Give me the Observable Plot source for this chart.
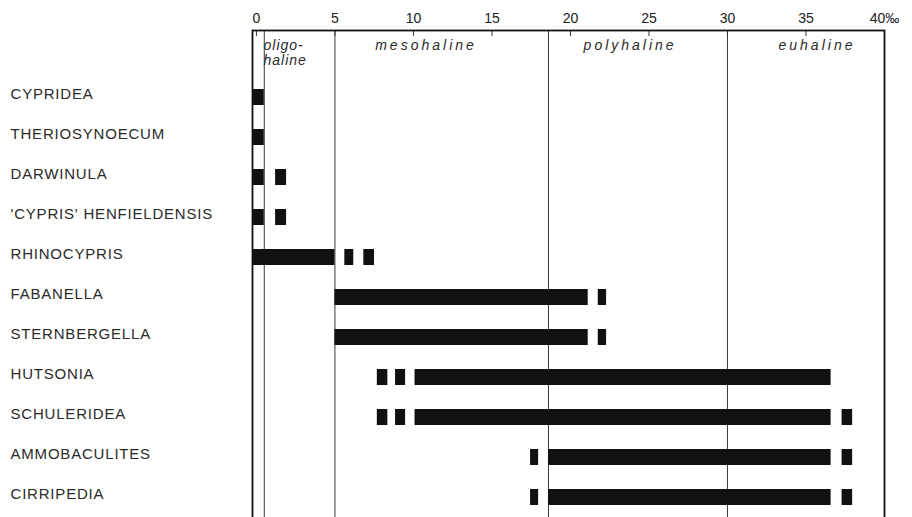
<!DOCTYPE html>
<html>
<head>
<meta charset="utf-8">
<script src="https://cdn.jsdelivr.net/npm/d3@7"></script>
<script src="https://cdn.jsdelivr.net/npm/@observablehq/plot@0.6"></script>
<style>
  html, body { margin: 0; padding: 0; background: #fff; }
</style>
</head>
<body>
<div id="chart"></div>
<script>
// Taxa (rows, top to bottom)
const species = [
  "CYPRIDEA", "THERIOSYNOECUM", "DARWINULA", "'CYPRIS' HENFIELDENSIS", "RHINOCYPRIS",
  "FABANELLA", "STERNBERGELLA", "HUTSONIA", "SCHULERIDEA", "AMMOBACULITES", "CIRRIPEDIA"
];

// Salinity ranges (‰): one entry per drawn segment
const segSpecies = [
  "CYPRIDEA",
  "THERIOSYNOECUM",
  "DARWINULA", "DARWINULA",
  "'CYPRIS' HENFIELDENSIS", "'CYPRIS' HENFIELDENSIS",
  "RHINOCYPRIS", "RHINOCYPRIS", "RHINOCYPRIS",
  "FABANELLA", "FABANELLA",
  "STERNBERGELLA", "STERNBERGELLA",
  "HUTSONIA", "HUTSONIA", "HUTSONIA",
  "SCHULERIDEA", "SCHULERIDEA", "SCHULERIDEA", "SCHULERIDEA",
  "AMMOBACULITES", "AMMOBACULITES", "AMMOBACULITES",
  "CIRRIPEDIA", "CIRRIPEDIA", "CIRRIPEDIA"
];
const segStart = [
  -0.2,
  -0.2,
  -0.2, 1.22,
  -0.2, 1.22,
  -0.2, 5.63, 6.84,
  5.0, 21.77,
  5.0, 21.77,
  7.7, 8.86, 10.1,
  7.7, 8.86, 10.1, 37.3,
  17.46, 18.6, 37.3,
  17.46, 18.6, 37.3
];
const segEnd = [
  0.5,
  0.5,
  0.5, 1.92,
  0.5, 1.92,
  5.0, 6.2, 7.52,
  21.13, 22.3,
  21.13, 22.3,
  8.37, 9.5, 36.6,
  8.37, 9.5, 36.6, 37.97,
  17.97, 36.6, 37.97,
  17.97, 36.6, 37.97
];

// Salinity zones
const zoneLines = [0.5, 5, 18.6, 30];
const firstZoneName = "oligo-\nhaline";
const firstZoneX = 0.45;
const zoneNames = ["mesohaline", "polyhaline", "euhaline"];
const zoneLabelX = [10.8, 23.8, 35.7];

// Axis ticks
const tickValues = [0, 5, 10, 15, 20, 25, 30, 35, 40];
const tickLabels = ["0", "5", "10", "15", "20", "25", "30", "35", "40‰"];

const segments = segSpecies.map((s, i) => ({species: s, start: segStart[i], end: segEnd[i]}));

const chart = Plot.plot({
  width: 912,
  height: 517,
  marginLeft: 252,
  marginRight: 28,
  marginTop: 30,
  marginBottom: 0,
  style: {fontFamily: "'Liberation Sans', Arial, sans-serif", background: "#fff", color: "#222"},
  x: {domain: [-0.25, 40], axis: null, label: null},
  y: {domain: species, range: [76, 517], padding: 0, axis: null, label: null},
  marks: [
    Plot.ruleX(zoneLines, {x: d => d, stroke: "#3a3a3a", strokeWidth: 1}),
    Plot.ruleX(tickValues, {x: d => d, insetBottom: 481, stroke: "#333", strokeWidth: 1}),
    Plot.frame({stroke: "#111", strokeWidth: 1.8, insetBottom: -20}),
    Plot.axisX(tickValues, {
      anchor: "top", tickSize: 0, tickPadding: 8, fontSize: 14, fill: "#222",
      tickFormat: (d) => tickLabels[tickValues.indexOf(d)]
    }),
    Plot.barX(segments, {
      x1: "start", x2: "end", y: "species", fill: "#111", insetTop: 12, insetBottom: 12
    }),
    Plot.text(species, {
      y: d => d, text: d => d, frameAnchor: "left", dx: -242, dy: -3, textAnchor: "start",
      fontSize: 15, fill: "#2a2a2a"
    }),
    Plot.text([firstZoneName], {
      x: () => firstZoneX, text: d => d, textAnchor: "start", frameAnchor: "top", lineAnchor: "top",
      dy: 9, dx: 0, lineHeight: 1.05, fontSize: 14, fontStyle: "italic", fill: "#2a2a2a"
    }),
    Plot.text(zoneNames, {
      x: (d, i) => zoneLabelX[i], text: d => d, textAnchor: "middle", frameAnchor: "top", lineAnchor: "top",
      dy: 10, fontSize: 14, fontStyle: "italic", fill: "#2a2a2a"
    })
  ]
});
document.getElementById("chart").appendChild(chart);

// letter spacing (typewriter-like lettering of the original)
const textGroups = chart.querySelectorAll('g[aria-label="text"]');
if (textGroups[0]) textGroups[0].setAttribute("letter-spacing", "0.8px");
if (textGroups[1]) textGroups[1].setAttribute("letter-spacing", "1px");
if (textGroups[2]) textGroups[2].setAttribute("letter-spacing", "3px");
</script>
</body>
</html>
